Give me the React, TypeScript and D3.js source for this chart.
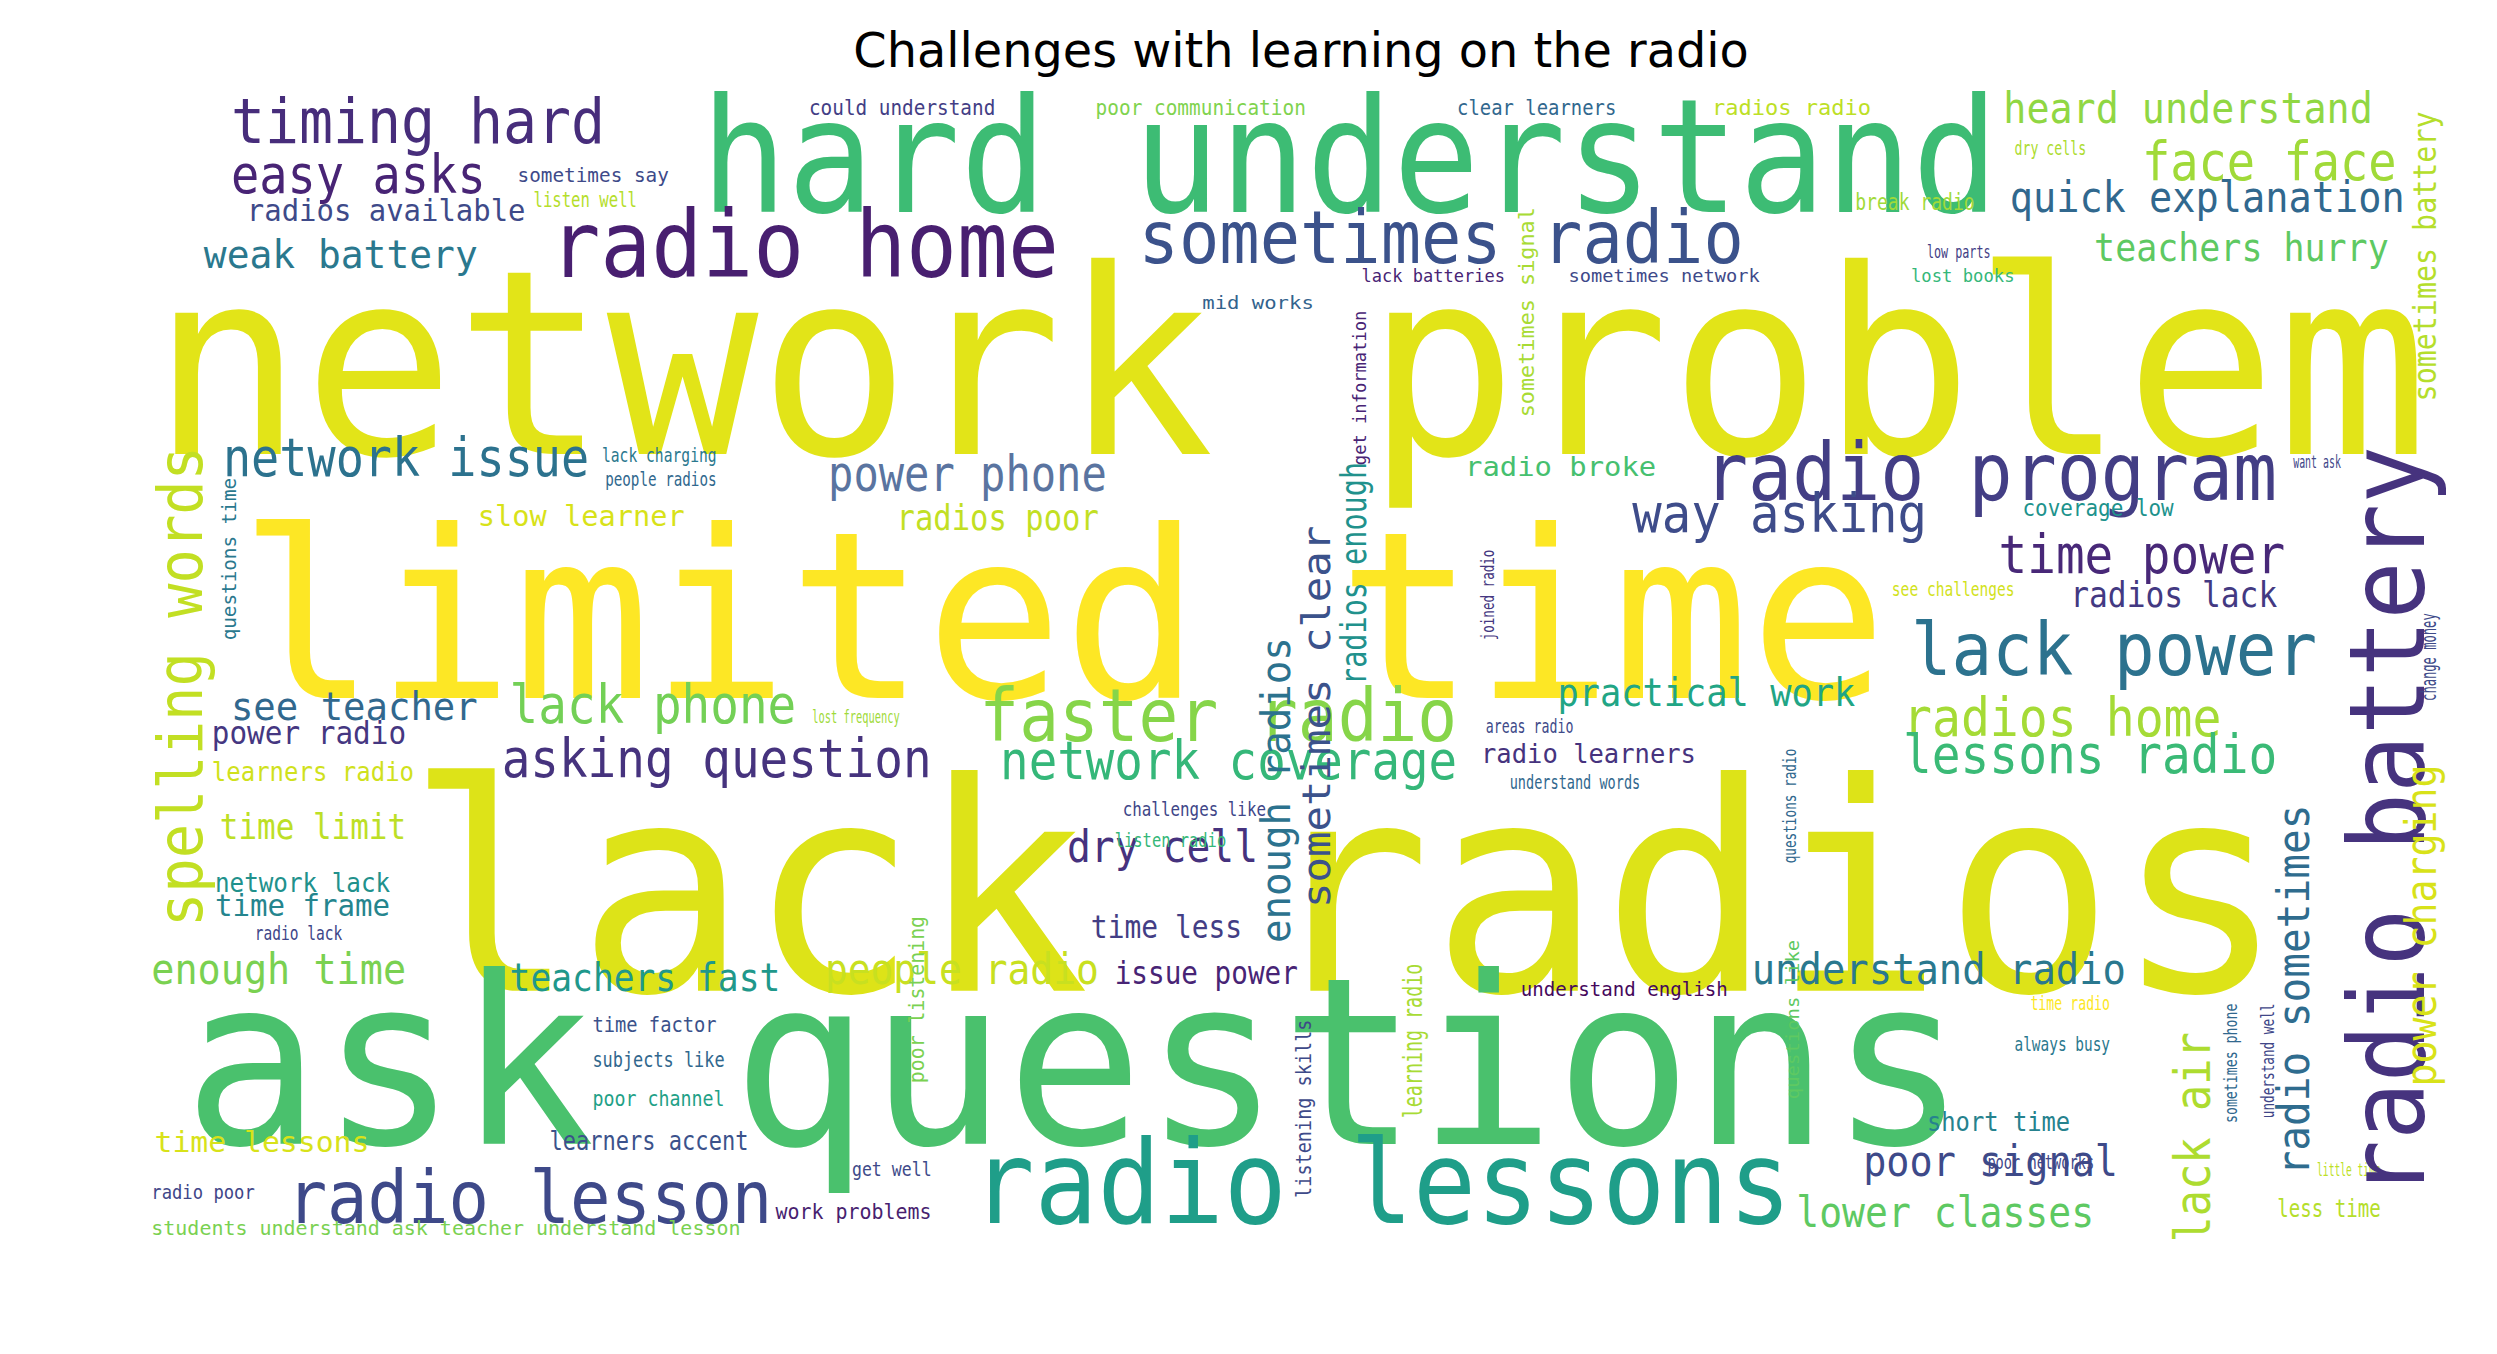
import * as d3 from 'd3';

// Word cloud layout (reference units: 1568 x 850 view)
// [text, xStart, xEnd, baseline, size, colour]
const horizontalWords: [string, number, number, number, number, string][] = [
  ['network problem', 95, 1525, 285, 159, '#e2e418'],
  ['limited time', 150, 1185, 438, 144, '#fde725'],
  ['lack radios', 255, 1435, 622, 179, '#dde318'],
  ['ask questions', 115, 1235, 718, 144, '#4ac16d'],
  ['hard understand', 440, 1255, 133, 91, '#3dbc74'],
  ['radio lessons', 610, 1125, 768, 66, '#1f9e89'],
  ['radio home', 345, 665, 174, 53, '#481f70'],
  ['timing hard', 145, 380, 90, 36, '#472d7b'],
  ['easy asks', 145, 305, 121, 30, '#482475'],
  ['radios available', 155, 330, 139, 17, '#3e4a89'],
  ['weak battery', 128, 300, 168, 22, '#2a788e'],
  ['sometimes radio', 715, 1095, 165, 42, '#3b528b'],
  ['face face', 1345, 1505, 113, 30, '#a0da39'],
  ['heard understand', 1258, 1490, 77, 24, '#90d743'],
  ['quick explanation', 1262, 1510, 133, 24, '#31688e'],
  ['teachers hurry', 1315, 1500, 164, 22, '#5ec962'],
  ['network issue', 140, 370, 299, 30, '#2c728e'],
  ['power phone', 520, 695, 308, 28, '#5a74a0'],
  ['radio program', 1070, 1430, 314, 46, '#433e85'],
  ['way asking', 1025, 1210, 334, 30, '#3e4c8a'],
  ['time power', 1255, 1435, 360, 30, '#482878'],
  ['radios lack', 1300, 1430, 381, 20, '#433982'],
  ['lack power', 1200, 1455, 424, 42, '#2c728e'],
  ['radios home', 1195, 1395, 462, 30, '#a5db36'],
  ['lessons radio', 1195, 1430, 485, 30, '#3aba76'],
  ['faster radio', 615, 915, 465, 42, '#86d549'],
  ['lack phone', 320, 500, 454, 30, '#73d056'],
  ['asking question', 315, 585, 488, 30, '#46337e'],
  ['network coverage', 628, 915, 489, 30, '#35b779'],
  ['practical work', 978, 1165, 443, 22, '#21a585'],
  ['see teacher', 145, 300, 452, 22, '#31688e'],
  ['power radio', 133, 255, 467, 18, '#453781'],
  ['learners radio', 133, 260, 490, 15, '#d0e11c'],
  ['radios poor', 563, 690, 333, 20, '#c2df23'],
  ['slow learner', 300, 430, 330, 16, '#d8e219'],
  ['time limit', 138, 255, 527, 20, '#bddf26'],
  ['dry cell', 670, 790, 541, 25, '#46327e'],
  ['network lack', 135, 245, 560, 15, '#21918c'],
  ['time frame', 135, 245, 575, 17, '#25858e'],
  ['radio lack', 160, 215, 590, 11, '#404688'],
  ['enough time', 95, 255, 618, 24, '#7ad151'],
  ['teachers fast', 320, 490, 622, 22, '#1f988b'],
  ['people radio', 518, 690, 618, 24, '#c8e020'],
  ['issue power', 700, 815, 618, 18, '#482475'],
  ['time less', 685, 780, 589, 18, '#433e85'],
  ['understand radio', 1100, 1335, 618, 24, '#2a788e'],
  ['poor signal', 1170, 1330, 738, 24, '#3e4a89'],
  ['lower classes', 1128, 1315, 770, 24, '#5ec962'],
  ['radio lesson', 180, 485, 768, 42, '#3e4989'],
  ['challenges like', 705, 795, 512, 11, '#404688'],
  ['listen radio', 700, 770, 532, 11, '#35b779'],
  ['time factor', 372, 450, 648, 12, '#3b528b'],
  ['subjects like', 372, 455, 670, 12, '#31688e'],
  ['poor channel', 372, 455, 694, 12, '#1fa187'],
  ['learners accent', 345, 470, 722, 15, '#3b528b'],
  ['time lessons', 97, 232, 723, 16, '#d8e219'],
  ['radio poor', 95, 160, 753, 11, '#404688'],
  ['students understand ask teacher understand lesson', 95, 465, 775, 11, '#7ad151'],
  ['work problems', 487, 585, 765, 12, '#481f70'],
  ['get well', 535, 585, 738, 11, '#3e4a89'],
  ['understand english', 955, 1085, 625, 11, '#46085c'],
  ['short time', 1210, 1300, 710, 15, '#26828e'],
  ['always busy', 1265, 1325, 660, 11, '#2a788e'],
  ['time radio', 1275, 1325, 634, 11, '#fde725'],
  ['poor networks', 1248, 1315, 734, 11, '#404688'],
  ['little time', 1455, 1495, 738, 10, '#bddf26'],
  ['less time', 1430, 1495, 764, 14, '#b5de2b'],
  ['could understand', 508, 625, 72, 12, '#433e85'],
  ['poor communication', 688, 820, 72, 12, '#7fd34e'],
  ['clear learners', 915, 1015, 72, 12, '#31688e'],
  ['radios radio', 1075, 1175, 72, 12, '#bddf26'],
  ['dry cells', 1265, 1310, 97, 11, '#addc30'],
  ['sometimes say', 325, 420, 114, 11, '#3e4a89'],
  ['listen well', 335, 400, 130, 12, '#b5de2b'],
  ['break radio', 1165, 1240, 132, 13, '#a0da39'],
  ['lack batteries', 855, 945, 177, 10, '#482475'],
  ['sometimes network', 985, 1105, 177, 10, '#3e4989'],
  ['low parts', 1210, 1250, 162, 10, '#433e85'],
  ['lost books', 1200, 1265, 177, 10, '#35b779'],
  ['mid works', 755, 825, 194, 10, '#33638d'],
  ['lack charging', 378, 450, 290, 11, '#2a788e'],
  ['people radios', 380, 450, 305, 11, '#31688e'],
  ['radio broke', 920, 1040, 299, 15, '#46c06f'],
  ['coverage low', 1270, 1365, 324, 13, '#20928c'],
  ['want ask', 1440, 1470, 294, 10, '#404688'],
  ['lost frequency', 510, 565, 454, 10, '#a0da39'],
  ['see challenges', 1188, 1265, 374, 11, '#d2e21b'],
  ['areas radio', 933, 988, 460, 11, '#3e4a89'],
  ['radio learners', 930, 1065, 479, 15, '#46337e'],
  ['understand words', 948, 1030, 495, 11, '#31688e'],
];

// [text, baselineX, yBottom, yTop, size, colour] — read bottom-to-top
const verticalWords: [string, number, number, number, number, string][] = [
  ['radio battery', 1522, 752, 280, 60, '#46337e'],
  ['spelling words', 127, 582, 280, 36, '#c2df23'],
  ['sometimes battery', 1530, 252, 70, 18, '#b5de2b'],
  ['power charging', 1530, 682, 480, 24, '#d8e219'],
  ['radio sometimes', 1450, 738, 505, 25, '#2f6c8e'],
  ['lack air', 1388, 780, 648, 28, '#addc30'],
  ['enough radios', 810, 592, 400, 23, '#2c728e'],
  ['sometimes clear', 835, 570, 330, 22, '#3b528b'],
  ['radios enough', 858, 430, 290, 20, '#21918c'],
  ['learning radio', 893, 702, 605, 15, '#a8db34'],
  ['listening skills', 823, 752, 640, 12, '#3e4a89'],
  ['poor listening', 580, 680, 575, 12, '#7ad151'],
  ['sometimes signal', 963, 262, 130, 12, '#a8db34'],
  ['get information', 858, 292, 195, 10, '#482475'],
  ['questions radio', 1128, 542, 470, 10, '#31688e'],
  ['questions like', 1130, 690, 590, 10, '#5ec962'],
  ['joined radio', 938, 402, 345, 10, '#453781'],
  ['questions time', 148, 402, 300, 11, '#2a788e'],
  ['change money', 1530, 440, 385, 12, '#3e4a89'],
  ['understand well', 1428, 702, 630, 10, '#404688'],
  ['sometimes phone', 1405, 705, 630, 10, '#31688e'],
];

const title = 'Challenges with learning on the radio';

const W = 2497;
const H = 1354;

export default function App() {
  // reference view units -> page pixels
  const sx = d3.scaleLinear().domain([0, 1568]).range([0, W]);
  const sy = d3.scaleLinear().domain([0, 850]).range([0, H]);
  const k = W / 1568;
  const font = '"DejaVu Sans Mono", monospace';
  const grow = (s: number) => s * (s >= 100 ? 1.02 : 1.1) * k;

  return (
    <svg width={W} height={H} style={{ display: 'block', position: 'absolute', left: 0, top: 0, background: '#fff' }}>
      <text x={sx(817)} y={sy(42)} textAnchor="middle" fontFamily='"DejaVu Sans", sans-serif' fontSize={30 * k} fill="#000">
        {title}
      </text>
      {horizontalWords.map(([t, x0, x1, b, s, c], i) => (
        <text key={'h' + i} x={sx(x0)} y={sy(b)} fontFamily={font} fontSize={grow(s)} fill={c}
          textLength={sx(x1) - sx(x0)} lengthAdjust="spacingAndGlyphs">
          {t}
        </text>
      ))}
      {verticalWords.map(([t, x, yb, yt, s, c], i) => (
        <text key={'v' + i} transform={`translate(${sx(x)},${sy(yb)}) rotate(-90)`} fontFamily={font}
          fontSize={grow(s)} fill={c} textLength={sy(yb) - sy(yt)} lengthAdjust="spacingAndGlyphs">
          {t}
        </text>
      ))}
    </svg>
  );
}
